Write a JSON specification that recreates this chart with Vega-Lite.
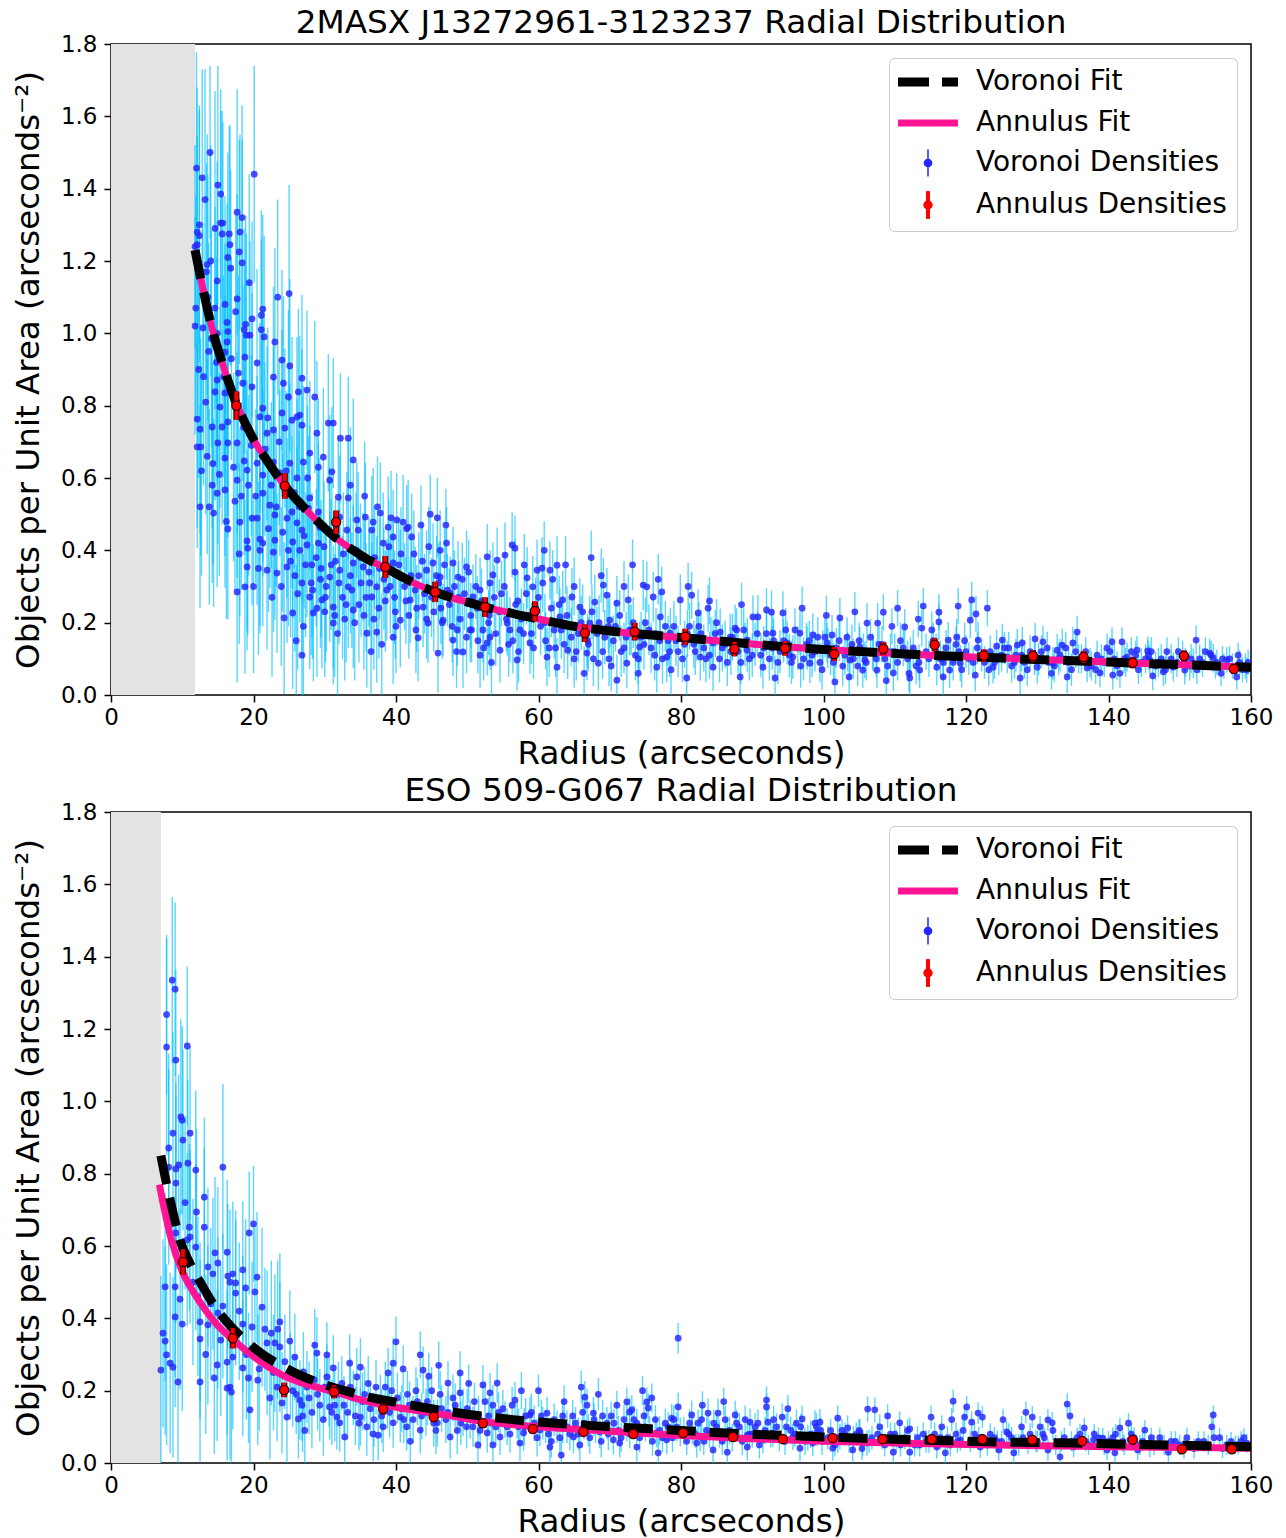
{
"$schema":"https://vega.github.io/schema/vega-lite/v6.json",
"background":"white",
"padding":{"left":11,"top":6,"right":10,"bottom":4},
"config":{"font":"DejaVu Sans","view":{"stroke":"black","strokeWidth":1.5},
"axis":{"grid":false,"domain":false,"tickColor":"black","tickWidth":1.5,"tickSize":7,"labelColor":"black","titleColor":"black","labelFontSize":23,"titleFontSize":32.5,"titleFontWeight":"normal","labelFlush":false,"labelOverlap":false,"labelFont":"DejaVu Sans","titleFont":"DejaVu Sans"},
"axisX":{"labelPadding":4,"titlePadding":8},
"axisY":{"labelPadding":7,"titlePadding":15},
"title":{"fontSize":32.7,"fontWeight":"normal","color":"black","font":"DejaVu Sans","anchor":"middle","baseline":"alphabetic","offset":-7}},
"datasets":{
"tv":[
{"r":12.0,"y":1.457,"e":0.32},{"r":12.8,"y":1.43,"e":0.3},{"r":13.9,"y":1.5,"e":0.24},{"r":15.0,"y":1.41,"e":0.33},{"r":15.4,"y":1.385,"e":0.29},{"r":13.2,"y":1.37,"e":0.36},{"r":20.1,"y":1.44,"e":0.3},{"r":17.7,"y":1.335,"e":0.34},{"r":18.4,"y":1.32,"e":0.31},{"r":12.4,"y":1.3,"e":0.33},{"r":12.1,"y":1.28,"e":0.4},{"r":12.4,"y":1.27,"e":0.35},{"r":12.1,"y":1.245,"e":0.3},{"r":11.8,"y":1.24,"e":0.28},{"r":14.6,"y":1.29,"e":0.38},{"r":15.4,"y":1.305,"e":0.31},{"r":15.7,"y":1.305,"e":0.28},{"r":15.6,"y":1.275,"e":0.34},{"r":16.6,"y":1.275,"e":0.3},{"r":18.1,"y":1.28,"e":0.27},{"r":16.7,"y":1.245,"e":0.33},{"r":18.0,"y":1.225,"e":0.31},{"r":16.4,"y":1.21,"e":0.29},{"r":18.4,"y":1.195,"e":0.34},{"r":14.0,"y":1.2,"e":0.32},{"r":13.5,"y":1.19,"e":0.36},{"r":13.4,"y":1.17,"e":0.3},{"r":16.8,"y":1.18,"e":0.27},{"r":19.4,"y":1.14,"e":0.3},{"r":14.9,"y":1.145,"e":0.33},{"r":23.4,"y":1.1,"e":0.27},{"r":25.0,"y":1.11,"e":0.3},{"r":17.7,"y":1.095,"e":0.29},{"r":13.6,"y":1.1,"e":0.34},{"r":11.9,"y":1.07,"e":0.31},{"r":14.6,"y":1.07,"e":0.28},{"r":16.0,"y":1.08,"e":0.3},{"r":17.5,"y":1.06,"e":0.27},{"r":21.3,"y":1.067,"e":0.26},{"r":21.1,"y":1.05,"e":0.29},{"r":19.8,"y":1.04,"e":0.27},{"r":18.9,"y":1.025,"e":0.3},{"r":18.7,"y":1.01,"e":0.28},{"r":19.5,"y":0.995,"e":0.26},{"r":21.1,"y":1.01,"e":0.25},{"r":11.8,"y":1.02,"e":0.3},{"r":16.3,"y":1.03,"e":0.33},{"r":12.9,"y":1.015,"e":0.29},{"r":16.4,"y":1.005,"e":0.27},{"r":21.5,"y":0.99,"e":0.28},{"r":14.9,"y":1.0,"e":0.31},
{"r":14.1,"y":0.985,"e":0.3},{"r":16.3,"y":0.976,"e":0.29},{"r":19.0,"y":0.995,"e":0.28},{"r":23.0,"y":0.976,"e":0.26},{"r":16.0,"y":0.948,"e":0.3},{"r":18.8,"y":0.934,"e":0.27},{"r":20.5,"y":0.918,"e":0.26},{"r":24.0,"y":0.926,"e":0.25},{"r":25.1,"y":0.91,"e":0.24},{"r":14.9,"y":0.871,"e":0.29},{"r":14.6,"y":0.838,"e":0.3},{"r":16.0,"y":0.835,"e":0.27},{"r":13.3,"y":0.81,"e":0.31},{"r":15.3,"y":0.796,"e":0.28},{"r":18.5,"y":0.862,"e":0.27},{"r":19.8,"y":0.852,"e":0.26},{"r":22.8,"y":0.879,"e":0.25},{"r":24.2,"y":0.862,"e":0.24},{"r":26.8,"y":0.876,"e":0.23},{"r":27.5,"y":0.843,"e":0.22},{"r":28.6,"y":0.824,"e":0.21},{"r":26.3,"y":0.838,"e":0.23},{"r":24.9,"y":0.824,"e":0.24},{"r":21.3,"y":0.793,"e":0.25},{"r":24.0,"y":0.78,"e":0.23},{"r":26.5,"y":0.774,"e":0.22},{"r":25.4,"y":0.76,"e":0.23},{"r":22.0,"y":0.766,"e":0.25},{"r":20.9,"y":0.769,"e":0.26},
{"r":12.1,"y":0.763,"e":0.3},{"r":12.5,"y":0.735,"e":0.29},{"r":12.1,"y":0.686,"e":0.28},{"r":12.6,"y":0.686,"e":0.3},{"r":13.5,"y":0.66,"e":0.27},{"r":14.2,"y":0.741,"e":0.28},{"r":15.6,"y":0.741,"e":0.27},{"r":16.4,"y":0.755,"e":0.26},{"r":15.0,"y":0.697,"e":0.28},{"r":16.4,"y":0.697,"e":0.26},{"r":16.0,"y":0.655,"e":0.27},{"r":17.7,"y":0.697,"e":0.25},{"r":18.7,"y":0.647,"e":0.26},{"r":17.7,"y":0.594,"e":0.27},{"r":19.1,"y":0.622,"e":0.25},{"r":20.5,"y":0.641,"e":0.24},{"r":21.9,"y":0.724,"e":0.24},{"r":22.8,"y":0.733,"e":0.23},{"r":24.4,"y":0.738,"e":0.22},{"r":26.1,"y":0.769,"e":0.22},{"r":26.8,"y":0.746,"e":0.21},{"r":27.9,"y":0.669,"e":0.2},{"r":28.9,"y":0.724,"e":0.2},{"r":30.5,"y":0.752,"e":0.19},{"r":31.2,"y":0.752,"e":0.18},{"r":32.2,"y":0.71,"e":0.18},{"r":33.3,"y":0.71,"e":0.17},{"r":34.0,"y":0.65,"e":0.17},{"r":29.8,"y":0.658,"e":0.19},{"r":27.0,"y":0.644,"e":0.21},{"r":25.1,"y":0.641,"e":0.22},{"r":22.8,"y":0.644,"e":0.23},{"r":21.3,"y":0.608,"e":0.24},{"r":23.7,"y":0.614,"e":0.23},{"r":26.1,"y":0.6,"e":0.22},{"r":29.1,"y":0.63,"e":0.19},{"r":31.0,"y":0.617,"e":0.18},{"r":30.7,"y":0.594,"e":0.18},
{"r":14.2,"y":0.58,"e":0.27},{"r":14.9,"y":0.558,"e":0.26},{"r":16.0,"y":0.567,"e":0.27},{"r":12.5,"y":0.52,"e":0.28},{"r":13.8,"y":0.52,"e":0.27},{"r":14.4,"y":0.503,"e":0.26},{"r":16.4,"y":0.459,"e":0.25},{"r":17.4,"y":0.536,"e":0.25},{"r":18.1,"y":0.478,"e":0.26},{"r":19.8,"y":0.489,"e":0.24},{"r":19.1,"y":0.426,"e":0.25},{"r":20.5,"y":0.489,"e":0.24},{"r":21.3,"y":0.558,"e":0.23},{"r":22.3,"y":0.525,"e":0.23},{"r":23.0,"y":0.498,"e":0.22},{"r":24.7,"y":0.489,"e":0.22},{"r":25.4,"y":0.506,"e":0.21},{"r":26.1,"y":0.476,"e":0.21},{"r":26.8,"y":0.456,"e":0.2},{"r":27.9,"y":0.545,"e":0.2},{"r":27.7,"y":0.517,"e":0.2},{"r":29.1,"y":0.506,"e":0.19},{"r":29.3,"y":0.464,"e":0.19},{"r":30.7,"y":0.448,"e":0.18},{"r":31.9,"y":0.547,"e":0.17},{"r":33.3,"y":0.545,"e":0.17},{"r":32.1,"y":0.492,"e":0.17},{"r":33.1,"y":0.456,"e":0.16},{"r":34.5,"y":0.484,"e":0.16},{"r":35.7,"y":0.492,"e":0.15},{"r":36.8,"y":0.478,"e":0.15},{"r":37.8,"y":0.503,"e":0.14},{"r":38.9,"y":0.464,"e":0.14},{"r":40.1,"y":0.484,"e":0.13},{"r":41.0,"y":0.478,"e":0.13},{"r":41.7,"y":0.464,"e":0.13},{"r":42.2,"y":0.437,"e":0.12},{"r":39.6,"y":0.437,"e":0.13},{"r":38.2,"y":0.42,"e":0.14},{"r":36.6,"y":0.456,"e":0.15},{"r":34.7,"y":0.456,"e":0.16},{"r":29.1,"y":0.42,"e":0.19},{"r":27.5,"y":0.415,"e":0.2},{"r":25.5,"y":0.423,"e":0.21},{"r":23.0,"y":0.428,"e":0.22},{"r":21.3,"y":0.42,"e":0.23},{"r":20.9,"y":0.431,"e":0.24},
{"r":19.2,"y":0.406,"e":0.24},{"r":20.9,"y":0.4,"e":0.23},{"r":22.8,"y":0.395,"e":0.22},{"r":24.9,"y":0.4,"e":0.21},{"r":26.5,"y":0.4,"e":0.2},{"r":19.1,"y":0.354,"e":0.23},{"r":21.9,"y":0.345,"e":0.22},{"r":23.3,"y":0.337,"e":0.22},{"r":24.7,"y":0.354,"e":0.21},{"r":26.8,"y":0.31,"e":0.2},{"r":27.9,"y":0.271,"e":0.2},{"r":29.6,"y":0.263,"e":0.19},{"r":30.7,"y":0.326,"e":0.18},{"r":32.1,"y":0.345,"e":0.17},{"r":33.3,"y":0.299,"e":0.17},{"r":34.0,"y":0.365,"e":0.16},{"r":35.4,"y":0.354,"e":0.15},{"r":36.6,"y":0.271,"e":0.15},{"r":37.3,"y":0.299,"e":0.14},{"r":38.7,"y":0.29,"e":0.14},{"r":39.6,"y":0.365,"e":0.13},{"r":40.6,"y":0.326,"e":0.13},{"r":42.0,"y":0.263,"e":0.12},{"r":42.7,"y":0.29,"e":0.12},{"r":44.3,"y":0.345,"e":0.11},{"r":45.2,"y":0.365,"e":0.11},{"r":46.2,"y":0.4,"e":0.11},{"r":47.1,"y":0.42,"e":0.1},{"r":48.0,"y":0.365,"e":0.1},{"r":48.7,"y":0.326,"e":0.1},{"r":49.9,"y":0.354,"e":0.1},{"r":52.8,"y":0.382,"e":0.09},{"r":54.2,"y":0.373,"e":0.09},{"r":46.2,"y":0.326,"e":0.1},{"r":43.8,"y":0.243,"e":0.11},{"r":47.6,"y":0.282,"e":0.1},{"r":50.8,"y":0.271,"e":0.09},{"r":53.2,"y":0.31,"e":0.09},{"r":51.8,"y":0.29,"e":0.09},{"r":34.0,"y":0.235,"e":0.16},{"r":31.2,"y":0.243,"e":0.17},
{"r":17.7,"y":0.285,"e":0.25},{"r":18.8,"y":0.299,"e":0.24},{"r":24.3,"y":0.213,"e":0.21},{"r":25.5,"y":0.227,"e":0.21},{"r":26.8,"y":0.11,"e":0.2},{"r":28.4,"y":0.227,"e":0.19},{"r":31.2,"y":0.199,"e":0.17},{"r":35.9,"y":0.171,"e":0.15},{"r":37.3,"y":0.174,"e":0.14},{"r":39.6,"y":0.16,"e":0.13},{"r":40.6,"y":0.207,"e":0.13},{"r":43.1,"y":0.158,"e":0.12},{"r":45.9,"y":0.116,"e":0.11},{"r":48.0,"y":0.152,"e":0.1},{"r":49.4,"y":0.119,"e":0.1},{"r":51.8,"y":0.11,"e":0.09},{"r":52.8,"y":0.144,"e":0.09},{"r":50.4,"y":0.18,"e":0.09},{"r":44.5,"y":0.199,"e":0.11},{"r":46.6,"y":0.207,"e":0.1},{"r":48.6,"y":0.18,"e":0.1},
{"r":55.3,"y":0.387,"e":0.09},{"r":56.3,"y":0.415,"e":0.09},{"r":56.7,"y":0.406,"e":0.09},{"r":53.6,"y":0.332,"e":0.09},{"r":56.7,"y":0.34,"e":0.09},{"r":58.4,"y":0.324,"e":0.085},{"r":59.8,"y":0.345,"e":0.085},{"r":60.5,"y":0.351,"e":0.085},{"r":61.6,"y":0.345,"e":0.08},{"r":62.6,"y":0.359,"e":0.08},{"r":60.6,"y":0.31,"e":0.08},{"r":59.2,"y":0.299,"e":0.085},{"r":63.4,"y":0.263,"e":0.08},{"r":64.7,"y":0.271,"e":0.08},{"r":65.8,"y":0.243,"e":0.08},{"r":67.9,"y":0.257,"e":0.075},{"r":69.1,"y":0.304,"e":0.075},{"r":69.6,"y":0.276,"e":0.075},{"r":71.0,"y":0.254,"e":0.075},{"r":72.6,"y":0.263,"e":0.07},{"r":74.7,"y":0.304,"e":0.07},{"r":75.2,"y":0.299,"e":0.07},{"r":76.1,"y":0.271,"e":0.07},{"r":77.3,"y":0.285,"e":0.07},{"r":79.9,"y":0.263,"e":0.07},{"r":81.5,"y":0.276,"e":0.065},{"r":82.4,"y":0.227,"e":0.065},{"r":83.8,"y":0.24,"e":0.065},{"r":85.5,"y":0.174,"e":0.065},{"r":87.6,"y":0.185,"e":0.065},{"r":90.1,"y":0.216,"e":0.06},{"r":90.8,"y":0.216,"e":0.06},{"r":92.0,"y":0.235,"e":0.06},{"r":92.7,"y":0.229,"e":0.06},{"r":94.3,"y":0.227,"e":0.06},{"r":96.7,"y":0.171,"e":0.06},{"r":98.5,"y":0.166,"e":0.06},{"r":101.2,"y":0.166,"e":0.055},{"r":102.3,"y":0.213,"e":0.055},{"r":106.1,"y":0.199,"e":0.055},{"r":107.6,"y":0.199,"e":0.055},
{"r":53.2,"y":0.16,"e":0.09},{"r":54.6,"y":0.124,"e":0.09},{"r":57.0,"y":0.097,"e":0.085},{"r":58.8,"y":0.144,"e":0.085},{"r":61.2,"y":0.105,"e":0.08},{"r":62.6,"y":0.077,"e":0.08},{"r":64.1,"y":0.124,"e":0.08},{"r":66.8,"y":0.116,"e":0.075},{"r":68.4,"y":0.088,"e":0.075},{"r":71.0,"y":0.041,"e":0.07},{"r":72.4,"y":0.088,"e":0.07},{"r":74.2,"y":0.133,"e":0.07},{"r":76.6,"y":0.077,"e":0.07},{"r":78.0,"y":0.105,"e":0.07},{"r":80.8,"y":0.047,"e":0.065},{"r":82.7,"y":0.105,"e":0.065},{"r":84.5,"y":0.077,"e":0.065},{"r":88.3,"y":0.05,"e":0.06},{"r":89.3,"y":0.124,"e":0.06},{"r":91.5,"y":0.077,"e":0.06},{"r":93.2,"y":0.047,"e":0.06},{"r":95.7,"y":0.105,"e":0.06},{"r":98.1,"y":0.088,"e":0.055},{"r":99.9,"y":0.124,"e":0.055},{"r":101.6,"y":0.036,"e":0.055},{"r":103.7,"y":0.097,"e":0.055},{"r":105.5,"y":0.069,"e":0.05},{"r":107.0,"y":0.116,"e":0.05},
{"r":52.2,"y":0.18,"e":0.09},{"r":55.6,"y":0.199,"e":0.09},{"r":57.4,"y":0.18,"e":0.085},{"r":63.0,"y":0.216,"e":0.08},{"r":67.2,"y":0.199,"e":0.075},{"r":70.0,"y":0.207,"e":0.075},{"r":72.8,"y":0.18,"e":0.07},{"r":77.1,"y":0.216,"e":0.07},{"r":78.5,"y":0.171,"e":0.07},{"r":82.2,"y":0.16,"e":0.065},{"r":84.5,"y":0.144,"e":0.065},{"r":86.9,"y":0.16,"e":0.065},{"r":89.3,"y":0.152,"e":0.06},{"r":92.9,"y":0.171,"e":0.06},{"r":94.9,"y":0.144,"e":0.06},{"r":97.7,"y":0.13,"e":0.06},{"r":100.5,"y":0.144,"e":0.055},{"r":103.3,"y":0.16,"e":0.055},{"r":105.1,"y":0.133,"e":0.055},
{"r":108.4,"y":0.229,"e":0.05},{"r":109.6,"y":0.19,"e":0.05},{"r":111.4,"y":0.188,"e":0.05},{"r":113.3,"y":0.21,"e":0.05},{"r":114.0,"y":0.246,"e":0.05},{"r":113.8,"y":0.185,"e":0.05},{"r":115.2,"y":0.18,"e":0.05},{"r":116.2,"y":0.229,"e":0.05},{"r":116.2,"y":0.202,"e":0.05},{"r":117.5,"y":0.152,"e":0.05},{"r":118.7,"y":0.16,"e":0.05},{"r":118.9,"y":0.246,"e":0.05},{"r":120.8,"y":0.263,"e":0.05},{"r":120.6,"y":0.207,"e":0.05},{"r":121.4,"y":0.224,"e":0.05},{"r":123.0,"y":0.24,"e":0.05},{"r":121.7,"y":0.152,"e":0.05},{"r":124.3,"y":0.135,"e":0.045},{"r":125.1,"y":0.152,"e":0.045},{"r":127.2,"y":0.138,"e":0.045},{"r":127.9,"y":0.144,"e":0.045},{"r":129.7,"y":0.155,"e":0.045},{"r":130.8,"y":0.147,"e":0.045},{"r":132.8,"y":0.124,"e":0.045},{"r":133.5,"y":0.138,"e":0.045},{"r":135.0,"y":0.144,"e":0.045},{"r":135.6,"y":0.174,"e":0.045},{"r":140.5,"y":0.147,"e":0.04},{"r":141.9,"y":0.147,"e":0.04},{"r":144.0,"y":0.124,"e":0.04},{"r":145.5,"y":0.122,"e":0.04},{"r":152.3,"y":0.152,"e":0.04},{"r":154.2,"y":0.116,"e":0.04},{"r":154.7,"y":0.102,"e":0.04},{"r":146.2,"y":0.053,"e":0.04},{"r":147.7,"y":0.064,"e":0.04},{"r":150.7,"y":0.069,"e":0.04},{"r":158.0,"y":0.05,"e":0.035},{"r":159.4,"y":0.069,"e":0.035},
{"r":105.8,"y":0.097,"e":0.05},{"r":107.5,"y":0.069,"e":0.05},{"r":109.8,"y":0.061,"e":0.05},{"r":112.1,"y":0.047,"e":0.05},{"r":113.5,"y":0.069,"e":0.05},{"r":115.9,"y":0.077,"e":0.05},{"r":117.7,"y":0.069,"e":0.05},{"r":119.2,"y":0.088,"e":0.05},{"r":121.3,"y":0.055,"e":0.045},{"r":123.8,"y":0.077,"e":0.045},{"r":125.8,"y":0.105,"e":0.045},{"r":127.6,"y":0.047,"e":0.045},{"r":130.0,"y":0.077,"e":0.045},{"r":132.2,"y":0.088,"e":0.045},{"r":134.2,"y":0.05,"e":0.045},{"r":137.0,"y":0.075,"e":0.04},{"r":138.8,"y":0.061,"e":0.04},{"r":140.6,"y":0.055,"e":0.04},{"r":142.6,"y":0.105,"e":0.04},{"r":145.8,"y":0.097,"e":0.04},{"r":149.1,"y":0.077,"e":0.04},{"r":151.9,"y":0.088,"e":0.04},{"r":156.6,"y":0.097,"e":0.035},
{"r":25.8,"y":0.33,"e":0.21},{"r":26.2,"y":0.28,"e":0.21},{"r":27.3,"y":0.36,"e":0.2},{"r":28.1,"y":0.31,"e":0.2},{"r":28.8,"y":0.38,"e":0.19},{"r":29.5,"y":0.35,"e":0.19},{"r":30.2,"y":0.3,"e":0.18},{"r":31.5,"y":0.37,"e":0.17},{"r":32.5,"y":0.27,"e":0.17},{"r":33.6,"y":0.33,"e":0.16},{"r":34.4,"y":0.4,"e":0.16},{"r":35.1,"y":0.31,"e":0.15},{"r":29.9,"y":0.41,"e":0.18},{"r":27.0,"y":0.19,"e":0.2},{"r":30.0,"y":0.23,"e":0.18},{"r":32.8,"y":0.21,"e":0.17},{"r":34.8,"y":0.25,"e":0.16},{"r":26.0,"y":0.15,"e":0.21},{"r":31.8,"y":0.17,"e":0.17},
{"r":35.5,"y":0.22,"e":0.15},{"r":36.2,"y":0.34,"e":0.15},{"r":37.0,"y":0.38,"e":0.14},{"r":37.6,"y":0.24,"e":0.14},{"r":38.3,"y":0.32,"e":0.14},{"r":39.0,"y":0.41,"e":0.13},{"r":39.8,"y":0.27,"e":0.13},{"r":40.4,"y":0.36,"e":0.13},{"r":41.2,"y":0.3,"e":0.12},{"r":41.8,"y":0.22,"e":0.12},{"r":42.5,"y":0.39,"e":0.12},{"r":43.2,"y":0.33,"e":0.12},{"r":44.0,"y":0.28,"e":0.11},{"r":44.6,"y":0.41,"e":0.11},{"r":45.3,"y":0.23,"e":0.11},{"r":46.0,"y":0.31,"e":0.11},{"r":46.8,"y":0.36,"e":0.1},{"r":47.5,"y":0.25,"e":0.1},{"r":48.2,"y":0.3,"e":0.1},{"r":49.0,"y":0.21,"e":0.1},{"r":49.6,"y":0.28,"e":0.1},{"r":43.5,"y":0.47,"e":0.11},{"r":44.8,"y":0.5,"e":0.11},{"r":45.8,"y":0.49,"e":0.11},{"r":47.0,"y":0.47,"e":0.1},{"r":40.0,"y":0.19,"e":0.13},{"r":42.8,"y":0.18,"e":0.12},{"r":38.0,"y":0.14,"e":0.14},{"r":36.5,"y":0.12,"e":0.15},{"r":48.5,"y":0.12,"e":0.1},{"r":46.5,"y":0.2,"e":0.1},{"r":41.5,"y":0.46,"e":0.12},{"r":39.3,"y":0.49,"e":0.13},{"r":37.4,"y":0.52,"e":0.14},{"r":35.6,"y":0.55,"e":0.15},{"r":33.6,"y":0.58,"e":0.16},
{"r":50.5,"y":0.22,"e":0.09},{"r":51.2,"y":0.3,"e":0.09},{"r":52.0,"y":0.26,"e":0.09},{"r":53.0,"y":0.2,"e":0.09},{"r":53.8,"y":0.27,"e":0.09},{"r":54.5,"y":0.23,"e":0.09},{"r":55.2,"y":0.3,"e":0.09},{"r":56.0,"y":0.18,"e":0.09},{"r":56.8,"y":0.25,"e":0.09},{"r":57.6,"y":0.21,"e":0.085},{"r":58.3,"y":0.28,"e":0.085},{"r":59.0,"y":0.17,"e":0.085},{"r":59.6,"y":0.24,"e":0.085},{"r":55.8,"y":0.14,"e":0.09},{"r":51.5,"y":0.15,"e":0.09},{"r":57.2,"y":0.12,"e":0.085},{"r":53.4,"y":0.09,"e":0.09},{"r":50.2,"y":0.34,"e":0.09},{"r":58.0,"y":0.36,"e":0.085},
{"r":60.3,"y":0.19,"e":0.08},{"r":61.0,"y":0.15,"e":0.08},{"r":61.8,"y":0.24,"e":0.08},{"r":62.4,"y":0.13,"e":0.08},{"r":63.2,"y":0.18,"e":0.08},{"r":64.0,"y":0.22,"e":0.08},{"r":64.6,"y":0.16,"e":0.08},{"r":65.3,"y":0.12,"e":0.08},{"r":66.0,"y":0.2,"e":0.075},{"r":67.0,"y":0.14,"e":0.075},{"r":67.5,"y":0.23,"e":0.075},{"r":68.2,"y":0.17,"e":0.075},{"r":69.0,"y":0.12,"e":0.075},{"r":69.8,"y":0.19,"e":0.075},{"r":70.5,"y":0.15,"e":0.07},{"r":71.4,"y":0.22,"e":0.07},{"r":72.0,"y":0.13,"e":0.07},{"r":73.0,"y":0.18,"e":0.07},{"r":73.6,"y":0.11,"e":0.07},{"r":74.4,"y":0.16,"e":0.07},{"r":75.0,"y":0.2,"e":0.07},{"r":75.8,"y":0.13,"e":0.07},{"r":76.5,"y":0.17,"e":0.07},{"r":77.4,"y":0.1,"e":0.07},{"r":78.2,"y":0.15,"e":0.07},{"r":79.0,"y":0.19,"e":0.07},{"r":79.6,"y":0.12,"e":0.07},{"r":66.4,"y":0.06,"e":0.075},{"r":70.2,"y":0.08,"e":0.07},{"r":74.0,"y":0.06,"e":0.07},{"r":78.6,"y":0.07,"e":0.07},{"r":62.0,"y":0.32,"e":0.08},{"r":65.0,"y":0.3,"e":0.08},{"r":68.8,"y":0.33,"e":0.075},{"r":60.8,"y":0.4,"e":0.08},{"r":72.0,"y":0.3,"e":0.07},{"r":76.8,"y":0.32,"e":0.07},{"r":73.2,"y":0.36,"e":0.07},{"r":67.4,"y":0.38,"e":0.075},{"r":63.8,"y":0.36,"e":0.08},
{"r":80.5,"y":0.14,"e":0.065},{"r":81.2,"y":0.19,"e":0.065},{"r":82.0,"y":0.12,"e":0.065},{"r":82.8,"y":0.17,"e":0.065},{"r":83.5,"y":0.1,"e":0.065},{"r":84.2,"y":0.15,"e":0.065},{"r":85.0,"y":0.2,"e":0.065},{"r":85.8,"y":0.13,"e":0.065},{"r":86.5,"y":0.09,"e":0.065},{"r":87.2,"y":0.16,"e":0.065},{"r":88.0,"y":0.12,"e":0.06},{"r":88.8,"y":0.18,"e":0.06},{"r":89.6,"y":0.1,"e":0.06},{"r":90.4,"y":0.14,"e":0.06},{"r":91.2,"y":0.11,"e":0.06},{"r":92.0,"y":0.17,"e":0.06},{"r":92.8,"y":0.13,"e":0.06},{"r":93.6,"y":0.09,"e":0.06},{"r":94.4,"y":0.15,"e":0.06},{"r":95.2,"y":0.11,"e":0.06},{"r":96.0,"y":0.18,"e":0.06},{"r":96.8,"y":0.08,"e":0.06},{"r":97.6,"y":0.14,"e":0.06},{"r":98.4,"y":0.11,"e":0.06},{"r":99.2,"y":0.16,"e":0.055},{"r":99.8,"y":0.07,"e":0.055},{"r":84.0,"y":0.26,"e":0.065},{"r":88.5,"y":0.25,"e":0.06},{"r":97.0,"y":0.24,"e":0.06},{"r":81.0,"y":0.3,"e":0.065},
{"r":100.6,"y":0.13,"e":0.055},{"r":101.4,"y":0.09,"e":0.055},{"r":102.2,"y":0.15,"e":0.055},{"r":103.0,"y":0.11,"e":0.055},{"r":104.0,"y":0.14,"e":0.055},{"r":104.8,"y":0.08,"e":0.055},{"r":105.6,"y":0.12,"e":0.05},{"r":106.6,"y":0.16,"e":0.05},{"r":107.4,"y":0.1,"e":0.05},{"r":108.2,"y":0.14,"e":0.05},{"r":109.0,"y":0.08,"e":0.05},{"r":110.0,"y":0.12,"e":0.05},{"r":110.8,"y":0.15,"e":0.05},{"r":111.8,"y":0.1,"e":0.05},{"r":112.6,"y":0.13,"e":0.05},{"r":113.4,"y":0.09,"e":0.05},{"r":114.4,"y":0.12,"e":0.05},{"r":115.4,"y":0.15,"e":0.05},{"r":116.4,"y":0.1,"e":0.05},{"r":117.2,"y":0.13,"e":0.05},{"r":118.2,"y":0.09,"e":0.05},{"r":119.0,"y":0.12,"e":0.05},{"r":119.8,"y":0.15,"e":0.05},{"r":112.0,"y":0.06,"e":0.05},{"r":116.8,"y":0.05,"e":0.05},{"r":103.6,"y":0.05,"e":0.055},{"r":108.8,"y":0.04,"e":0.05},{"r":100.4,"y":0.22,"e":0.055},{"r":104.4,"y":0.23,"e":0.055},{"r":110.4,"y":0.24,"e":0.05},
{"r":120.4,"y":0.1,"e":0.045},{"r":121.6,"y":0.13,"e":0.045},{"r":122.6,"y":0.09,"e":0.045},{"r":123.4,"y":0.12,"e":0.045},{"r":124.6,"y":0.1,"e":0.045},{"r":125.4,"y":0.13,"e":0.045},{"r":126.4,"y":0.08,"e":0.045},{"r":127.0,"y":0.11,"e":0.045},{"r":128.2,"y":0.09,"e":0.045},{"r":129.0,"y":0.12,"e":0.045},{"r":130.2,"y":0.1,"e":0.045},{"r":131.4,"y":0.13,"e":0.045},{"r":132.4,"y":0.08,"e":0.045},{"r":133.2,"y":0.11,"e":0.045},{"r":134.4,"y":0.09,"e":0.045},{"r":135.4,"y":0.12,"e":0.045},{"r":136.2,"y":0.1,"e":0.04},{"r":137.6,"y":0.08,"e":0.04},{"r":138.4,"y":0.11,"e":0.04},{"r":139.4,"y":0.09,"e":0.04},{"r":140.2,"y":0.12,"e":0.04},{"r":141.2,"y":0.08,"e":0.04},{"r":142.2,"y":0.1,"e":0.04},{"r":143.2,"y":0.12,"e":0.04},{"r":144.6,"y":0.09,"e":0.04},{"r":145.6,"y":0.11,"e":0.04},{"r":146.6,"y":0.08,"e":0.04},{"r":147.4,"y":0.1,"e":0.04},{"r":148.2,"y":0.12,"e":0.04},{"r":149.6,"y":0.09,"e":0.04},{"r":150.4,"y":0.11,"e":0.04},{"r":151.4,"y":0.08,"e":0.04},{"r":152.8,"y":0.1,"e":0.04},{"r":153.6,"y":0.12,"e":0.04},{"r":155.2,"y":0.09,"e":0.035},{"r":156.2,"y":0.08,"e":0.035},{"r":157.0,"y":0.1,"e":0.035},{"r":158.4,"y":0.09,"e":0.035},{"r":159.2,"y":0.08,"e":0.035},{"r":155.8,"y":0.06,"e":0.035},
{"r":28.3,"y":0.29,"e":0.19},{"r":28.9,"y":0.24,"e":0.19},{"r":29.4,"y":0.32,"e":0.19},{"r":30.1,"y":0.27,"e":0.18},{"r":30.9,"y":0.36,"e":0.18},{"r":31.4,"y":0.22,"e":0.17},{"r":32.0,"y":0.31,"e":0.17},{"r":32.6,"y":0.39,"e":0.17},{"r":33.0,"y":0.25,"e":0.16},{"r":33.8,"y":0.29,"e":0.16},{"r":34.2,"y":0.2,"e":0.16},{"r":35.0,"y":0.38,"e":0.15},{"r":35.8,"y":0.27,"e":0.15},{"r":36.3,"y":0.31,"e":0.15},{"r":36.9,"y":0.21,"e":0.14},{"r":37.7,"y":0.35,"e":0.14},{"r":38.5,"y":0.26,"e":0.14},{"r":39.2,"y":0.3,"e":0.13},{"r":39.9,"y":0.23,"e":0.13},{"r":40.7,"y":0.39,"e":0.13},{"r":41.4,"y":0.26,"e":0.12},{"r":42.1,"y":0.33,"e":0.12},{"r":42.9,"y":0.24,"e":0.12},{"r":43.7,"y":0.37,"e":0.11},{"r":44.3,"y":0.21,"e":0.11},{"r":45.0,"y":0.27,"e":0.11},{"r":45.7,"y":0.33,"e":0.11},{"r":46.3,"y":0.24,"e":0.1},{"r":47.2,"y":0.29,"e":0.1},{"r":47.9,"y":0.19,"e":0.1},{"r":48.8,"y":0.27,"e":0.1},{"r":49.3,"y":0.32,"e":0.1},{"r":49.9,"y":0.16,"e":0.1},
{"r":50.6,"y":0.18,"e":0.09},{"r":51.4,"y":0.24,"e":0.09},{"r":52.3,"y":0.13,"e":0.09},{"r":53.1,"y":0.22,"e":0.09},{"r":54.0,"y":0.17,"e":0.09},{"r":54.8,"y":0.28,"e":0.09},{"r":55.5,"y":0.21,"e":0.09},{"r":56.4,"y":0.15,"e":0.09},{"r":57.1,"y":0.26,"e":0.085},{"r":57.9,"y":0.17,"e":0.085},{"r":58.7,"y":0.22,"e":0.085},{"r":59.3,"y":0.13,"e":0.085},{"r":60.0,"y":0.27,"e":0.085},{"r":60.9,"y":0.2,"e":0.08},{"r":61.5,"y":0.13,"e":0.08},{"r":62.2,"y":0.18,"e":0.08},{"r":62.9,"y":0.25,"e":0.08},{"r":63.6,"y":0.14,"e":0.08},{"r":64.3,"y":0.19,"e":0.08},{"r":65.0,"y":0.1,"e":0.08},{"r":65.6,"y":0.17,"e":0.08},{"r":66.2,"y":0.23,"e":0.075},{"r":66.9,"y":0.15,"e":0.075},{"r":67.7,"y":0.1,"e":0.075},{"r":68.5,"y":0.2,"e":0.075},{"r":69.3,"y":0.16,"e":0.075},{"r":69.9,"y":0.1,"e":0.075},
{"r":70.8,"y":0.19,"e":0.07},{"r":71.6,"y":0.12,"e":0.07},{"r":72.3,"y":0.16,"e":0.07},{"r":73.3,"y":0.2,"e":0.07},{"r":74.0,"y":0.1,"e":0.07},{"r":74.8,"y":0.14,"e":0.07},{"r":75.5,"y":0.18,"e":0.07},{"r":76.3,"y":0.11,"e":0.07},{"r":77.0,"y":0.15,"e":0.07},{"r":77.8,"y":0.19,"e":0.07},{"r":78.4,"y":0.12,"e":0.07},{"r":79.3,"y":0.15,"e":0.07},{"r":80.2,"y":0.1,"e":0.065},{"r":80.9,"y":0.17,"e":0.065},{"r":81.8,"y":0.14,"e":0.065},{"r":82.5,"y":0.19,"e":0.065},{"r":83.2,"y":0.13,"e":0.065},{"r":84.0,"y":0.11,"e":0.065},{"r":84.8,"y":0.17,"e":0.065},{"r":85.4,"y":0.1,"e":0.065},{"r":86.2,"y":0.14,"e":0.065},{"r":87.0,"y":0.12,"e":0.065},{"r":87.8,"y":0.18,"e":0.06},{"r":88.4,"y":0.09,"e":0.06},{"r":89.0,"y":0.14,"e":0.06},{"r":90.0,"y":0.11,"e":0.06},{"r":90.7,"y":0.17,"e":0.06},{"r":91.6,"y":0.13,"e":0.06},{"r":92.4,"y":0.1,"e":0.06},{"r":93.0,"y":0.15,"e":0.06},{"r":93.9,"y":0.12,"e":0.06},{"r":94.7,"y":0.18,"e":0.06},{"r":95.5,"y":0.09,"e":0.06},{"r":96.4,"y":0.13,"e":0.06},{"r":97.2,"y":0.1,"e":0.06},{"r":98.0,"y":0.15,"e":0.055},{"r":98.8,"y":0.12,"e":0.055},{"r":99.5,"y":0.09,"e":0.055},{"r":100.2,"y":0.16,"e":0.055},{"r":101.0,"y":0.11,"e":0.055},{"r":101.8,"y":0.13,"e":0.055},{"r":102.7,"y":0.08,"e":0.055},{"r":103.4,"y":0.12,"e":0.055},{"r":104.2,"y":0.1,"e":0.055},{"r":105.0,"y":0.15,"e":0.05},{"r":106.0,"y":0.09,"e":0.05},{"r":106.9,"y":0.12,"e":0.05},{"r":107.8,"y":0.14,"e":0.05},{"r":108.6,"y":0.1,"e":0.05},{"r":109.4,"y":0.12,"e":0.05},
{"r":110.4,"y":0.09,"e":0.05},{"r":111.2,"y":0.13,"e":0.05},{"r":112.2,"y":0.11,"e":0.05},{"r":113.0,"y":0.08,"e":0.05},{"r":114.8,"y":0.1,"e":0.05},{"r":115.8,"y":0.12,"e":0.05},{"r":116.8,"y":0.09,"e":0.05},{"r":117.8,"y":0.11,"e":0.05},{"r":118.6,"y":0.14,"e":0.05},{"r":119.4,"y":0.07,"e":0.05},{"r":120.0,"y":0.12,"e":0.045},{"r":121.0,"y":0.09,"e":0.045},{"r":122.2,"y":0.11,"e":0.045},{"r":123.2,"y":0.07,"e":0.045},{"r":124.0,"y":0.09,"e":0.045},{"r":125.0,"y":0.11,"e":0.045},{"r":126.0,"y":0.13,"e":0.045},{"r":126.8,"y":0.09,"e":0.045},{"r":127.8,"y":0.11,"e":0.045},{"r":128.6,"y":0.07,"e":0.045},{"r":129.6,"y":0.1,"e":0.045},{"r":130.6,"y":0.12,"e":0.045},{"r":131.6,"y":0.09,"e":0.045},{"r":132.0,"y":0.06,"e":0.045},{"r":133.0,"y":0.1,"e":0.045},{"r":134.0,"y":0.13,"e":0.045},{"r":134.8,"y":0.07,"e":0.045},{"r":135.8,"y":0.1,"e":0.04},{"r":136.8,"y":0.12,"e":0.04},{"r":137.4,"y":0.09,"e":0.04},{"r":138.2,"y":0.07,"e":0.04},{"r":139.0,"y":0.1,"e":0.04},{"r":139.8,"y":0.13,"e":0.04},{"r":140.8,"y":0.1,"e":0.04},{"r":141.6,"y":0.06,"e":0.04},{"r":142.4,"y":0.09,"e":0.04},{"r":143.8,"y":0.11,"e":0.04},{"r":144.2,"y":0.07,"e":0.04},{"r":145.2,"y":0.1,"e":0.04},{"r":146.0,"y":0.12,"e":0.04},{"r":147.0,"y":0.09,"e":0.04},{"r":148.0,"y":0.07,"e":0.04},{"r":148.8,"y":0.1,"e":0.04},{"r":149.8,"y":0.12,"e":0.04},{"r":150.8,"y":0.09,"e":0.04},{"r":151.6,"y":0.1,"e":0.04},{"r":152.4,"y":0.07,"e":0.04},{"r":153.2,"y":0.09,"e":0.04},{"r":154.4,"y":0.11,"e":0.04},{"r":155.0,"y":0.08,"e":0.035},{"r":156.0,"y":0.1,"e":0.035},{"r":157.4,"y":0.08,"e":0.035},{"r":158.2,"y":0.11,"e":0.035},{"r":158.8,"y":0.07,"e":0.035},{"r":159.6,"y":0.09,"e":0.035},
{"r":12.3,"y":0.9,"e":0.3},{"r":12.7,"y":0.62,"e":0.29},{"r":13.0,"y":0.88,"e":0.3},{"r":13.7,"y":0.95,"e":0.3},{"r":14.3,"y":0.64,"e":0.28},{"r":14.8,"y":0.92,"e":0.29},{"r":15.2,"y":0.61,"e":0.28},{"r":15.8,"y":0.88,"e":0.28},{"r":16.2,"y":0.48,"e":0.27},{"r":16.9,"y":0.93,"e":0.28},{"r":17.2,"y":0.63,"e":0.26},{"r":17.9,"y":0.89,"e":0.27},{"r":18.3,"y":0.55,"e":0.26},{"r":18.6,"y":0.74,"e":0.26},{"r":19.3,"y":0.58,"e":0.25},{"r":19.7,"y":0.69,"e":0.25},{"r":20.3,"y":0.55,"e":0.24},{"r":20.7,"y":0.35,"e":0.24},{"r":21.6,"y":0.68,"e":0.24},{"r":22.1,"y":0.46,"e":0.23},{"r":22.5,"y":0.58,"e":0.23},{"r":23.2,"y":0.52,"e":0.22},{"r":23.6,"y":0.7,"e":0.23},{"r":24.1,"y":0.45,"e":0.22},{"r":24.6,"y":0.62,"e":0.22},{"r":25.2,"y":0.37,"e":0.21},{"r":25.7,"y":0.56,"e":0.21},{"r":26.4,"y":0.52,"e":0.21},{"r":27.1,"y":0.44,"e":0.2},{"r":27.6,"y":0.6,"e":0.2},{"r":28.2,"y":0.36,"e":0.2},{"r":22.6,"y":0.27,"e":0.22},{"r":20.0,"y":0.3,"e":0.24},{"r":18.0,"y":0.39,"e":0.25},{"r":23.9,"y":0.3,"e":0.22}
],
"ta":[
{"r":17.6,"y":0.8,"e":0.039},{"r":24.4,"y":0.578,"e":0.035},{"r":31.6,"y":0.478,"e":0.032},{"r":38.5,"y":0.354,"e":0.03},{"r":45.5,"y":0.285,"e":0.028},{"r":52.5,"y":0.243,"e":0.027},{"r":59.5,"y":0.232,"e":0.027},{"r":66.5,"y":0.171,"e":0.024},{"r":73.5,"y":0.175,"e":0.024},{"r":80.6,"y":0.161,"e":0.022},{"r":87.5,"y":0.127,"e":0.02},{"r":94.6,"y":0.129,"e":0.02},{"r":101.5,"y":0.113,"e":0.019},{"r":108.4,"y":0.128,"e":0.018},{"r":115.6,"y":0.139,"e":0.018},{"r":122.5,"y":0.109,"e":0.017},{"r":129.4,"y":0.108,"e":0.016},{"r":136.5,"y":0.105,"e":0.016},{"r":143.4,"y":0.089,"e":0.015},{"r":150.6,"y":0.108,"e":0.015},{"r":157.6,"y":0.072,"e":0.014}
],
"tf":[
{"r":11.8,"y":1.23,"s":"Voronoi Fit"},{"r":12.5,"y":1.16,"s":"Voronoi Fit"},{"r":13.5,"y":1.07,"s":"Voronoi Fit"},{"r":14.5,"y":0.99,"s":"Voronoi Fit"},{"r":15.5,"y":0.925,"s":"Voronoi Fit"},{"r":16.5,"y":0.865,"s":"Voronoi Fit"},{"r":17.6,"y":0.805,"s":"Voronoi Fit"},{"r":19,"y":0.745,"s":"Voronoi Fit"},{"r":20.5,"y":0.69,"s":"Voronoi Fit"},{"r":22,"y":0.645,"s":"Voronoi Fit"},{"r":24.4,"y":0.578,"s":"Voronoi Fit"},{"r":27,"y":0.52,"s":"Voronoi Fit"},{"r":29,"y":0.48,"s":"Voronoi Fit"},{"r":31.2,"y":0.44,"s":"Voronoi Fit"},{"r":34,"y":0.4,"s":"Voronoi Fit"},{"r":36,"y":0.375,"s":"Voronoi Fit"},{"r":38.5,"y":0.352,"s":"Voronoi Fit"},{"r":41,"y":0.325,"s":"Voronoi Fit"},{"r":43,"y":0.305,"s":"Voronoi Fit"},{"r":45.5,"y":0.285,"s":"Voronoi Fit"},{"r":48,"y":0.268,"s":"Voronoi Fit"},{"r":50,"y":0.257,"s":"Voronoi Fit"},{"r":52.5,"y":0.243,"s":"Voronoi Fit"},{"r":55,"y":0.232,"s":"Voronoi Fit"},{"r":58,"y":0.218,"s":"Voronoi Fit"},{"r":60,"y":0.21,"s":"Voronoi Fit"},{"r":65,"y":0.19,"s":"Voronoi Fit"},{"r":70,"y":0.177,"s":"Voronoi Fit"},{"r":75,"y":0.167,"s":"Voronoi Fit"},{"r":80,"y":0.159,"s":"Voronoi Fit"},{"r":85,"y":0.15,"s":"Voronoi Fit"},{"r":90,"y":0.141,"s":"Voronoi Fit"},{"r":95,"y":0.133,"s":"Voronoi Fit"},{"r":100,"y":0.126,"s":"Voronoi Fit"},{"r":105,"y":0.12,"s":"Voronoi Fit"},{"r":110,"y":0.115,"s":"Voronoi Fit"},{"r":115,"y":0.11,"s":"Voronoi Fit"},{"r":120,"y":0.106,"s":"Voronoi Fit"},{"r":125,"y":0.102,"s":"Voronoi Fit"},{"r":130,"y":0.098,"s":"Voronoi Fit"},{"r":135,"y":0.095,"s":"Voronoi Fit"},{"r":140,"y":0.091,"s":"Voronoi Fit"},{"r":145,"y":0.087,"s":"Voronoi Fit"},{"r":150,"y":0.084,"s":"Voronoi Fit"},{"r":155,"y":0.08,"s":"Voronoi Fit"},{"r":160,"y":0.077,"s":"Voronoi Fit"},
{"r":11.8,"y":1.23,"s":"Annulus Fit"},{"r":12.5,"y":1.16,"s":"Annulus Fit"},{"r":13.5,"y":1.07,"s":"Annulus Fit"},{"r":14.5,"y":0.99,"s":"Annulus Fit"},{"r":15.5,"y":0.925,"s":"Annulus Fit"},{"r":16.5,"y":0.865,"s":"Annulus Fit"},{"r":17.6,"y":0.805,"s":"Annulus Fit"},{"r":19,"y":0.745,"s":"Annulus Fit"},{"r":20.5,"y":0.69,"s":"Annulus Fit"},{"r":22,"y":0.645,"s":"Annulus Fit"},{"r":24.4,"y":0.578,"s":"Annulus Fit"},{"r":27,"y":0.52,"s":"Annulus Fit"},{"r":29,"y":0.48,"s":"Annulus Fit"},{"r":31.2,"y":0.44,"s":"Annulus Fit"},{"r":34,"y":0.4,"s":"Annulus Fit"},{"r":36,"y":0.375,"s":"Annulus Fit"},{"r":38.5,"y":0.352,"s":"Annulus Fit"},{"r":41,"y":0.325,"s":"Annulus Fit"},{"r":43,"y":0.305,"s":"Annulus Fit"},{"r":45.5,"y":0.285,"s":"Annulus Fit"},{"r":48,"y":0.268,"s":"Annulus Fit"},{"r":50,"y":0.257,"s":"Annulus Fit"},{"r":52.5,"y":0.243,"s":"Annulus Fit"},{"r":55,"y":0.232,"s":"Annulus Fit"},{"r":58,"y":0.218,"s":"Annulus Fit"},{"r":60,"y":0.21,"s":"Annulus Fit"},{"r":65,"y":0.19,"s":"Annulus Fit"},{"r":70,"y":0.177,"s":"Annulus Fit"},{"r":75,"y":0.167,"s":"Annulus Fit"},{"r":80,"y":0.159,"s":"Annulus Fit"},{"r":85,"y":0.15,"s":"Annulus Fit"},{"r":90,"y":0.141,"s":"Annulus Fit"},{"r":95,"y":0.133,"s":"Annulus Fit"},{"r":100,"y":0.126,"s":"Annulus Fit"},{"r":105,"y":0.12,"s":"Annulus Fit"},{"r":110,"y":0.115,"s":"Annulus Fit"},{"r":115,"y":0.11,"s":"Annulus Fit"},{"r":120,"y":0.106,"s":"Annulus Fit"},{"r":125,"y":0.102,"s":"Annulus Fit"},{"r":130,"y":0.098,"s":"Annulus Fit"},{"r":135,"y":0.095,"s":"Annulus Fit"},{"r":140,"y":0.091,"s":"Annulus Fit"},{"r":145,"y":0.087,"s":"Annulus Fit"},{"r":150,"y":0.084,"s":"Annulus Fit"},{"r":155,"y":0.08,"s":"Annulus Fit"},{"r":160,"y":0.077,"s":"Annulus Fit"}
],
"bv":[
{"r":8.6,"y":1.335,"e":0.23},{"r":9.0,"y":1.31,"e":0.24},{"r":7.8,"y":1.24,"e":0.22},{"r":7.8,"y":1.15,"e":0.3},{"r":10.7,"y":1.153,"e":0.22},{"r":9.1,"y":1.114,"e":0.25},{"r":9.8,"y":0.957,"e":0.27},{"r":10.0,"y":0.948,"e":0.26},{"r":8.7,"y":0.912,"e":0.28},{"r":11.1,"y":0.912,"e":0.24},{"r":10.1,"y":0.893,"e":0.25},{"r":8.1,"y":0.871,"e":0.26},{"r":9.5,"y":0.824,"e":0.25},{"r":10.8,"y":0.829,"e":0.23},{"r":8.1,"y":0.818,"e":0.27},{"r":9.1,"y":0.813,"e":0.24},{"r":11.9,"y":0.81,"e":0.22},{"r":15.7,"y":0.818,"e":0.23},
{"r":9.1,"y":0.774,"e":0.24},{"r":13.1,"y":0.735,"e":0.22},{"r":12.0,"y":0.694,"e":0.23},{"r":13.1,"y":0.652,"e":0.22},{"r":20.0,"y":0.661,"e":0.16},{"r":19.4,"y":0.636,"e":0.17},{"r":11.0,"y":0.652,"e":0.23},{"r":9.1,"y":0.636,"e":0.25},{"r":11.1,"y":0.625,"e":0.24},{"r":11.9,"y":0.597,"e":0.23},{"r":10.7,"y":0.617,"e":0.24},{"r":14.6,"y":0.581,"e":0.21},{"r":16.3,"y":0.583,"e":0.2},{"r":15.0,"y":0.553,"e":0.21},{"r":13.6,"y":0.542,"e":0.22},{"r":14.3,"y":0.523,"e":0.21},{"r":16.4,"y":0.517,"e":0.2},{"r":17.1,"y":0.523,"e":0.2},{"r":18.5,"y":0.534,"e":0.19},{"r":20.5,"y":0.514,"e":0.18},{"r":17.5,"y":0.498,"e":0.2},{"r":16.7,"y":0.5,"e":0.2},{"r":7.6,"y":0.487,"e":0.26},{"r":9.0,"y":0.487,"e":0.25},{"r":9.7,"y":0.453,"e":0.25},{"r":10.0,"y":0.384,"e":0.24},{"r":9.0,"y":0.404,"e":0.25},{"r":12.5,"y":0.39,"e":0.22},{"r":18.5,"y":0.384,"e":0.19},{"r":19.8,"y":0.376,"e":0.18},{"r":21.2,"y":0.431,"e":0.22},{"r":18.9,"y":0.484,"e":0.19},{"r":20.2,"y":0.473,"e":0.18},{"r":17.5,"y":0.47,"e":0.2},{"r":15.7,"y":0.434,"e":0.2},{"r":15.0,"y":0.415,"e":0.21},{"r":13.6,"y":0.382,"e":0.22},{"r":7.3,"y":0.359,"e":0.26},{"r":7.6,"y":0.337,"e":0.26},{"r":7.8,"y":0.299,"e":0.25},{"r":8.3,"y":0.276,"e":0.25},{"r":7.0,"y":0.257,"e":0.26},{"r":9.4,"y":0.224,"e":0.24},{"r":8.7,"y":0.265,"e":0.25},{"r":12.5,"y":0.343,"e":0.22},{"r":12.5,"y":0.224,"e":0.22},{"r":14.5,"y":0.235,"e":0.21},{"r":16.3,"y":0.279,"e":0.2},{"r":17.1,"y":0.293,"e":0.2},{"r":16.7,"y":0.21,"e":0.2},{"r":16.9,"y":0.196,"e":0.2},{"r":19.5,"y":0.147,"e":0.18},{"r":19.3,"y":0.235,"e":0.18},{"r":20.6,"y":0.229,"e":0.18},{"r":22.3,"y":0.18,"e":0.17},{"r":21.9,"y":0.332,"e":0.2},{"r":22.5,"y":0.359,"e":0.2},{"r":23.7,"y":0.39,"e":0.19},{"r":23.4,"y":0.37,"e":0.19},{"r":23.0,"y":0.332,"e":0.19},{"r":23.7,"y":0.321,"e":0.18},{"r":25.1,"y":0.337,"e":0.14},{"r":25.8,"y":0.293,"e":0.12},{"r":27.0,"y":0.252,"e":0.11},{"r":28.6,"y":0.326,"e":0.1},{"r":28.9,"y":0.304,"e":0.1},{"r":30.3,"y":0.299,"e":0.09},{"r":31.2,"y":0.263,"e":0.09},{"r":33.5,"y":0.276,"e":0.08},{"r":34.5,"y":0.238,"e":0.08},{"r":35.0,"y":0.265,"e":0.08},{"r":38.9,"y":0.249,"e":0.07},{"r":39.6,"y":0.276,"e":0.07},{"r":40.0,"y":0.335,"e":0.07},{"r":43.4,"y":0.299,"e":0.065},{"r":43.8,"y":0.257,"e":0.065},{"r":49.0,"y":0.249,"e":0.06},{"r":47.3,"y":0.221,"e":0.06},{"r":49.0,"y":0.194,"e":0.06},{"r":52.2,"y":0.216,"e":0.055},{"r":54.2,"y":0.221,"e":0.055},{"r":24.0,"y":0.166,"e":0.14},{"r":24.7,"y":0.127,"e":0.13},{"r":26.3,"y":0.122,"e":0.11},{"r":26.5,"y":0.174,"e":0.11},{"r":30.3,"y":0.238,"e":0.09},{"r":30.7,"y":0.155,"e":0.09},{"r":31.7,"y":0.127,"e":0.09},{"r":32.1,"y":0.111,"e":0.08},{"r":32.8,"y":0.072,"e":0.08},{"r":35.0,"y":0.127,"e":0.08},{"r":35.9,"y":0.1,"e":0.08},{"r":38.2,"y":0.1,"e":0.07},{"r":37.5,"y":0.077,"e":0.07},{"r":39.6,"y":0.111,"e":0.07},{"r":40.6,"y":0.127,"e":0.07},{"r":41.5,"y":0.1,"e":0.065},{"r":45.8,"y":0.111,"e":0.065},{"r":43.4,"y":0.091,"e":0.065},{"r":47.6,"y":0.072,"e":0.06},{"r":49.9,"y":0.1,"e":0.06},{"r":51.5,"y":0.05,"e":0.055},{"r":52.8,"y":0.083,"e":0.055},{"r":18.5,"y":0.263,"e":0.19},{"r":16.3,"y":0.207,"e":0.2},{"r":14.9,"y":0.271,"e":0.21},
{"r":79.6,"y":0.345,"e":0.042},{"r":79.6,"y":0.155,"e":0.04},{"r":53.2,"y":0.194,"e":0.055},{"r":53.6,"y":0.16,"e":0.055},{"r":56.7,"y":0.174,"e":0.05},{"r":66.5,"y":0.182,"e":0.045},{"r":66.8,"y":0.16,"e":0.045},{"r":75.2,"y":0.169,"e":0.04},{"r":75.9,"y":0.18,"e":0.04},{"r":75.4,"y":0.152,"e":0.04},{"r":72.8,"y":0.141,"e":0.04},{"r":67.7,"y":0.138,"e":0.045},{"r":61.2,"y":0.138,"e":0.045},{"r":58.8,"y":0.133,"e":0.05},{"r":78.7,"y":0.124,"e":0.04},{"r":81.5,"y":0.133,"e":0.04},{"r":83.8,"y":0.138,"e":0.04},{"r":85.2,"y":0.138,"e":0.04},{"r":87.6,"y":0.133,"e":0.04},{"r":89.7,"y":0.113,"e":0.038},{"r":92.0,"y":0.155,"e":0.038},{"r":92.2,"y":0.113,"e":0.038},{"r":94.2,"y":0.127,"e":0.038},{"r":97.0,"y":0.122,"e":0.036},{"r":99.5,"y":0.113,"e":0.036},{"r":102.0,"y":0.124,"e":0.035},{"r":103.4,"y":0.097,"e":0.035},{"r":107.2,"y":0.147,"e":0.035},{"r":63.2,"y":0.022,"e":0.045},{"r":76.8,"y":0.028,"e":0.04},{"r":61.6,"y":0.044,"e":0.045},{"r":57.4,"y":0.055,"e":0.05},{"r":54.6,"y":0.072,"e":0.05},{"r":65.8,"y":0.05,"e":0.045},{"r":71.4,"y":0.055,"e":0.04},{"r":73.8,"y":0.044,"e":0.04},{"r":78.0,"y":0.064,"e":0.04},{"r":82.2,"y":0.055,"e":0.04},{"r":84.5,"y":0.036,"e":0.04},{"r":86.5,"y":0.03,"e":0.04},{"r":89.3,"y":0.044,"e":0.038},{"r":91.5,"y":0.064,"e":0.038},{"r":96.7,"y":0.041,"e":0.036},{"r":98.5,"y":0.055,"e":0.036},{"r":101.3,"y":0.041,"e":0.035},{"r":104.1,"y":0.036,"e":0.035},{"r":105.5,"y":0.055,"e":0.035},{"r":55.6,"y":0.1,"e":0.05},{"r":57.9,"y":0.083,"e":0.05},{"r":60.2,"y":0.091,"e":0.045},{"r":63.4,"y":0.1,"e":0.045},{"r":64.9,"y":0.072,"e":0.045},{"r":68.6,"y":0.086,"e":0.045},{"r":70.5,"y":0.064,"e":0.04},{"r":76.6,"y":0.083,"e":0.04},{"r":79.9,"y":0.086,"e":0.04},{"r":82.7,"y":0.072,"e":0.04},{"r":86.5,"y":0.083,"e":0.04},{"r":89.3,"y":0.077,"e":0.038},{"r":92.9,"y":0.083,"e":0.038},{"r":95.7,"y":0.072,"e":0.036},{"r":99.1,"y":0.083,"e":0.036},{"r":102.3,"y":0.072,"e":0.035},{"r":105.1,"y":0.086,"e":0.035},{"r":92.0,"y":0.174,"e":0.038},{"r":72.4,"y":0.169,"e":0.04},{"r":73.1,"y":0.147,"e":0.04},
{"r":106.2,"y":0.149,"e":0.035},{"r":110.7,"y":0.111,"e":0.032},{"r":112.1,"y":0.094,"e":0.032},{"r":115.1,"y":0.127,"e":0.032},{"r":118.2,"y":0.171,"e":0.032},{"r":119.8,"y":0.127,"e":0.03},{"r":120.1,"y":0.155,"e":0.03},{"r":120.8,"y":0.113,"e":0.03},{"r":121.7,"y":0.138,"e":0.03},{"r":122.3,"y":0.127,"e":0.03},{"r":125.7,"y":0.086,"e":0.03},{"r":129.3,"y":0.127,"e":0.03},{"r":130.4,"y":0.1,"e":0.03},{"r":131.5,"y":0.119,"e":0.03},{"r":132.1,"y":0.111,"e":0.03},{"r":134.2,"y":0.163,"e":0.03},{"r":136.6,"y":0.097,"e":0.028},{"r":141.6,"y":0.097,"e":0.028},{"r":154.7,"y":0.133,"e":0.026},{"r":154.5,"y":0.1,"e":0.026},{"r":106.1,"y":0.055,"e":0.035},{"r":109.8,"y":0.03,"e":0.032},{"r":112.1,"y":0.03,"e":0.032},{"r":113.5,"y":0.05,"e":0.032},{"r":115.9,"y":0.044,"e":0.032},{"r":117.1,"y":0.028,"e":0.032},{"r":119.2,"y":0.064,"e":0.03},{"r":122.0,"y":0.044,"e":0.03},{"r":124.6,"y":0.036,"e":0.03},{"r":126.7,"y":0.028,"e":0.03},{"r":128.7,"y":0.055,"e":0.03},{"r":131.5,"y":0.036,"e":0.03},{"r":133.2,"y":0.017,"e":0.03},{"r":135.1,"y":0.044,"e":0.028},{"r":137.9,"y":0.064,"e":0.028},{"r":139.8,"y":0.036,"e":0.028},{"r":140.9,"y":0.028,"e":0.028},{"r":144.1,"y":0.036,"e":0.028},{"r":145.8,"y":0.044,"e":0.028},{"r":148.4,"y":0.03,"e":0.027},{"r":157.8,"y":0.05,"e":0.026},{"r":159.4,"y":0.055,"e":0.026},{"r":107.9,"y":0.1,"e":0.035},{"r":139.2,"y":0.069,"e":0.028},{"r":143.0,"y":0.064,"e":0.028},{"r":145.1,"y":0.091,"e":0.028},
{"r":25.5,"y":0.2,"e":0.1},{"r":26.8,"y":0.16,"e":0.1},{"r":27.5,"y":0.21,"e":0.1},{"r":28.2,"y":0.14,"e":0.1},{"r":29.0,"y":0.19,"e":0.1},{"r":29.8,"y":0.12,"e":0.1},{"r":30.6,"y":0.2,"e":0.1},{"r":31.4,"y":0.16,"e":0.1},{"r":32.4,"y":0.22,"e":0.075},{"r":33.2,"y":0.14,"e":0.075},{"r":34.0,"y":0.18,"e":0.075},{"r":34.8,"y":0.11,"e":0.075},{"r":35.6,"y":0.19,"e":0.075},{"r":36.4,"y":0.15,"e":0.075},{"r":37.2,"y":0.21,"e":0.075},{"r":38.0,"y":0.13,"e":0.075},{"r":38.8,"y":0.17,"e":0.075},{"r":39.4,"y":0.2,"e":0.075},{"r":27.2,"y":0.09,"e":0.1},{"r":36.8,"y":0.08,"e":0.075},
{"r":40.8,"y":0.15,"e":0.065},{"r":41.6,"y":0.19,"e":0.065},{"r":42.4,"y":0.12,"e":0.065},{"r":43.0,"y":0.17,"e":0.065},{"r":44.2,"y":0.14,"e":0.065},{"r":45.0,"y":0.2,"e":0.065},{"r":45.6,"y":0.09,"e":0.065},{"r":46.4,"y":0.15,"e":0.065},{"r":47.0,"y":0.12,"e":0.065},{"r":48.0,"y":0.18,"e":0.065},{"r":48.6,"y":0.09,"e":0.065},{"r":49.4,"y":0.14,"e":0.065},{"r":50.4,"y":0.12,"e":0.052},{"r":51.0,"y":0.17,"e":0.052},{"r":51.8,"y":0.09,"e":0.052},{"r":53.0,"y":0.13,"e":0.052},{"r":54.0,"y":0.1,"e":0.052},{"r":55.0,"y":0.15,"e":0.052},{"r":56.0,"y":0.08,"e":0.052},{"r":57.0,"y":0.12,"e":0.052},{"r":58.0,"y":0.1,"e":0.052},{"r":59.0,"y":0.14,"e":0.052},{"r":59.8,"y":0.07,"e":0.052},{"r":44.6,"y":0.24,"e":0.065},{"r":50.2,"y":0.22,"e":0.052},{"r":41.0,"y":0.26,"e":0.065},{"r":46.0,"y":0.27,"e":0.065},{"r":57.6,"y":0.2,"e":0.052},{"r":42.0,"y":0.06,"e":0.065},{"r":53.6,"y":0.05,"e":0.052},
{"r":60.6,"y":0.11,"e":0.045},{"r":61.4,"y":0.08,"e":0.045},{"r":62.2,"y":0.12,"e":0.045},{"r":63.0,"y":0.07,"e":0.045},{"r":64.0,"y":0.1,"e":0.045},{"r":64.8,"y":0.13,"e":0.045},{"r":65.6,"y":0.08,"e":0.045},{"r":66.4,"y":0.11,"e":0.045},{"r":67.2,"y":0.07,"e":0.045},{"r":68.0,"y":0.1,"e":0.045},{"r":69.0,"y":0.13,"e":0.045},{"r":69.8,"y":0.08,"e":0.045},{"r":70.6,"y":0.11,"e":0.04},{"r":71.6,"y":0.07,"e":0.04},{"r":72.4,"y":0.1,"e":0.04},{"r":73.4,"y":0.12,"e":0.04},{"r":74.2,"y":0.07,"e":0.04},{"r":75.0,"y":0.1,"e":0.04},{"r":76.0,"y":0.06,"e":0.04},{"r":77.0,"y":0.09,"e":0.04},{"r":77.8,"y":0.11,"e":0.04},{"r":78.8,"y":0.07,"e":0.04},{"r":79.4,"y":0.1,"e":0.04},{"r":80.8,"y":0.06,"e":0.038},{"r":81.6,"y":0.09,"e":0.038},{"r":82.4,"y":0.11,"e":0.038},{"r":83.2,"y":0.06,"e":0.038},{"r":84.0,"y":0.08,"e":0.038},{"r":85.0,"y":0.1,"e":0.038},{"r":85.8,"y":0.06,"e":0.038},{"r":86.8,"y":0.09,"e":0.038},{"r":87.8,"y":0.11,"e":0.038},{"r":88.6,"y":0.06,"e":0.038},{"r":89.6,"y":0.08,"e":0.038},{"r":90.4,"y":0.1,"e":0.038},{"r":91.0,"y":0.05,"e":0.038},{"r":92.6,"y":0.08,"e":0.038},{"r":93.4,"y":0.1,"e":0.038},{"r":94.6,"y":0.06,"e":0.038},{"r":95.4,"y":0.09,"e":0.038},{"r":96.2,"y":0.11,"e":0.038},{"r":97.4,"y":0.06,"e":0.038},{"r":98.2,"y":0.08,"e":0.038},{"r":99.0,"y":0.1,"e":0.038},{"r":99.8,"y":0.06,"e":0.038},{"r":63.6,"y":0.17,"e":0.045},{"r":68.4,"y":0.19,"e":0.045},{"r":71.0,"y":0.16,"e":0.04},{"r":83.0,"y":0.16,"e":0.038},{"r":86.0,"y":0.17,"e":0.038},{"r":95.0,"y":0.15,"e":0.038},{"r":60.0,"y":0.2,"e":0.045},{"r":66.0,"y":0.21,"e":0.045},{"r":74.6,"y":0.2,"e":0.04},
{"r":100.6,"y":0.07,"e":0.032},{"r":101.6,"y":0.05,"e":0.032},{"r":102.6,"y":0.09,"e":0.032},{"r":103.6,"y":0.06,"e":0.032},{"r":104.6,"y":0.08,"e":0.032},{"r":105.4,"y":0.04,"e":0.032},{"r":106.8,"y":0.07,"e":0.032},{"r":108.6,"y":0.05,"e":0.032},{"r":109.4,"y":0.08,"e":0.032},{"r":110.2,"y":0.06,"e":0.032},{"r":111.4,"y":0.07,"e":0.032},{"r":112.8,"y":0.05,"e":0.032},{"r":114.0,"y":0.08,"e":0.032},{"r":114.8,"y":0.06,"e":0.032},{"r":116.4,"y":0.07,"e":0.032},{"r":117.8,"y":0.05,"e":0.032},{"r":118.6,"y":0.08,"e":0.032},{"r":120.6,"y":0.06,"e":0.03},{"r":121.2,"y":0.08,"e":0.03},{"r":123.0,"y":0.05,"e":0.03},{"r":124.0,"y":0.07,"e":0.03},{"r":125.0,"y":0.06,"e":0.03},{"r":126.0,"y":0.08,"e":0.03},{"r":127.4,"y":0.05,"e":0.03},{"r":128.0,"y":0.07,"e":0.03},{"r":129.8,"y":0.06,"e":0.03},{"r":130.8,"y":0.08,"e":0.028},{"r":132.6,"y":0.05,"e":0.028},{"r":133.8,"y":0.07,"e":0.028},{"r":134.8,"y":0.06,"e":0.028},{"r":136.0,"y":0.08,"e":0.028},{"r":137.2,"y":0.05,"e":0.028},{"r":138.6,"y":0.07,"e":0.028},{"r":140.0,"y":0.06,"e":0.028},{"r":141.0,"y":0.08,"e":0.028},{"r":142.2,"y":0.05,"e":0.028},{"r":143.6,"y":0.07,"e":0.028},{"r":144.8,"y":0.06,"e":0.028},{"r":146.4,"y":0.05,"e":0.028},{"r":147.2,"y":0.07,"e":0.028},{"r":148.8,"y":0.06,"e":0.028},{"r":150.0,"y":0.05,"e":0.028},{"r":151.0,"y":0.07,"e":0.028},{"r":152.0,"y":0.04,"e":0.028},{"r":153.4,"y":0.06,"e":0.028},{"r":154.0,"y":0.05,"e":0.028},{"r":155.6,"y":0.07,"e":0.028},{"r":156.6,"y":0.05,"e":0.028},{"r":158.6,"y":0.06,"e":0.028},{"r":125.2,"y":0.12,"e":0.03},{"r":128.4,"y":0.14,"e":0.03},{"r":109.0,"y":0.13,"e":0.032},{"r":118.0,"y":0.12,"e":0.032},{"r":142.8,"y":0.11,"e":0.028},{"r":134.6,"y":0.13,"e":0.028},{"r":116.6,"y":0.1,"e":0.032},{"r":127.8,"y":0.1,"e":0.03},
{"r":25.2,"y":0.24,"e":0.12},{"r":26.0,"y":0.19,"e":0.11},{"r":26.9,"y":0.13,"e":0.1},{"r":27.8,"y":0.18,"e":0.1},{"r":28.5,"y":0.23,"e":0.1},{"r":29.3,"y":0.16,"e":0.1},{"r":30.0,"y":0.21,"e":0.09},{"r":31.0,"y":0.14,"e":0.09},{"r":31.9,"y":0.19,"e":0.09},{"r":32.7,"y":0.16,"e":0.08},{"r":33.6,"y":0.21,"e":0.08},{"r":34.3,"y":0.13,"e":0.08},{"r":35.3,"y":0.17,"e":0.08},{"r":36.1,"y":0.22,"e":0.075},{"r":36.9,"y":0.12,"e":0.075},{"r":37.8,"y":0.17,"e":0.075},{"r":38.5,"y":0.21,"e":0.07},{"r":39.1,"y":0.14,"e":0.07},{"r":40.2,"y":0.18,"e":0.07},{"r":41.1,"y":0.12,"e":0.065},{"r":41.9,"y":0.16,"e":0.065},{"r":42.8,"y":0.2,"e":0.065},{"r":43.6,"y":0.13,"e":0.065},{"r":44.4,"y":0.17,"e":0.065},{"r":45.3,"y":0.11,"e":0.065},{"r":46.2,"y":0.19,"e":0.065},{"r":47.3,"y":0.14,"e":0.06},{"r":48.3,"y":0.16,"e":0.06},{"r":49.1,"y":0.11,"e":0.06},{"r":50.0,"y":0.15,"e":0.055},{"r":50.8,"y":0.1,"e":0.055},{"r":51.6,"y":0.13,"e":0.055},{"r":52.5,"y":0.17,"e":0.055},{"r":53.4,"y":0.11,"e":0.055},{"r":54.4,"y":0.14,"e":0.055},{"r":55.3,"y":0.12,"e":0.05},{"r":56.3,"y":0.16,"e":0.05},{"r":57.2,"y":0.1,"e":0.05},{"r":58.2,"y":0.13,"e":0.05},{"r":59.4,"y":0.11,"e":0.05},
{"r":60.4,"y":0.13,"e":0.045},{"r":61.0,"y":0.1,"e":0.045},{"r":61.8,"y":0.06,"e":0.045},{"r":62.6,"y":0.1,"e":0.045},{"r":63.4,"y":0.13,"e":0.045},{"r":64.4,"y":0.08,"e":0.045},{"r":65.2,"y":0.11,"e":0.045},{"r":66.2,"y":0.14,"e":0.045},{"r":67.0,"y":0.09,"e":0.045},{"r":67.8,"y":0.12,"e":0.045},{"r":68.8,"y":0.06,"e":0.045},{"r":69.6,"y":0.11,"e":0.045},{"r":70.2,"y":0.13,"e":0.04},{"r":71.2,"y":0.09,"e":0.04},{"r":72.0,"y":0.12,"e":0.04},{"r":72.8,"y":0.08,"e":0.04},{"r":73.8,"y":0.11,"e":0.04},{"r":74.8,"y":0.13,"e":0.04},{"r":75.6,"y":0.09,"e":0.04},{"r":76.4,"y":0.12,"e":0.04},{"r":77.4,"y":0.07,"e":0.04},{"r":78.2,"y":0.1,"e":0.04},{"r":79.0,"y":0.12,"e":0.04},{"r":80.4,"y":0.09,"e":0.038},{"r":81.2,"y":0.11,"e":0.038},{"r":82.0,"y":0.08,"e":0.038},{"r":82.9,"y":0.12,"e":0.038},{"r":83.6,"y":0.09,"e":0.038},{"r":84.6,"y":0.11,"e":0.038},{"r":85.4,"y":0.08,"e":0.038},{"r":86.2,"y":0.12,"e":0.038},{"r":87.2,"y":0.07,"e":0.038},{"r":88.2,"y":0.1,"e":0.038},{"r":89.0,"y":0.12,"e":0.038},{"r":90.0,"y":0.08,"e":0.038},{"r":90.8,"y":0.11,"e":0.038},{"r":91.8,"y":0.09,"e":0.038},{"r":93.0,"y":0.12,"e":0.038},{"r":93.8,"y":0.07,"e":0.038},{"r":94.8,"y":0.1,"e":0.038},{"r":96.0,"y":0.08,"e":0.036},{"r":96.8,"y":0.1,"e":0.036},{"r":97.8,"y":0.07,"e":0.036},{"r":98.8,"y":0.11,"e":0.036},{"r":99.6,"y":0.09,"e":0.036},
{"r":101.0,"y":0.09,"e":0.032},{"r":102.0,"y":0.06,"e":0.032},{"r":103.0,"y":0.08,"e":0.032},{"r":104.2,"y":0.07,"e":0.032},{"r":105.0,"y":0.09,"e":0.032},{"r":106.4,"y":0.06,"e":0.032},{"r":107.6,"y":0.08,"e":0.032},{"r":108.2,"y":0.07,"e":0.032},{"r":110.0,"y":0.08,"e":0.032},{"r":110.8,"y":0.05,"e":0.032},{"r":111.8,"y":0.09,"e":0.032},{"r":113.2,"y":0.07,"e":0.032},{"r":114.4,"y":0.06,"e":0.032},{"r":115.6,"y":0.08,"e":0.032},{"r":117.4,"y":0.07,"e":0.032},{"r":118.8,"y":0.06,"e":0.032},{"r":119.6,"y":0.09,"e":0.03},{"r":121.8,"y":0.07,"e":0.03},{"r":123.4,"y":0.08,"e":0.03},{"r":124.4,"y":0.06,"e":0.03},{"r":126.4,"y":0.07,"e":0.03},{"r":127.0,"y":0.05,"e":0.03},{"r":129.0,"y":0.08,"e":0.03},{"r":130.0,"y":0.06,"e":0.03},{"r":131.0,"y":0.07,"e":0.028},{"r":132.2,"y":0.09,"e":0.028},{"r":133.4,"y":0.06,"e":0.028},{"r":135.6,"y":0.07,"e":0.028},{"r":136.8,"y":0.06,"e":0.028},{"r":138.0,"y":0.08,"e":0.028},{"r":139.4,"y":0.05,"e":0.028},{"r":140.6,"y":0.07,"e":0.028},{"r":142.0,"y":0.06,"e":0.028},{"r":143.2,"y":0.08,"e":0.028},{"r":144.4,"y":0.05,"e":0.028},{"r":146.0,"y":0.07,"e":0.028},{"r":147.8,"y":0.05,"e":0.028},{"r":149.4,"y":0.06,"e":0.028},{"r":150.6,"y":0.04,"e":0.028},{"r":152.6,"y":0.06,"e":0.028},{"r":154.8,"y":0.07,"e":0.026},{"r":156.0,"y":0.04,"e":0.026},{"r":157.2,"y":0.06,"e":0.026},{"r":158.2,"y":0.05,"e":0.026},{"r":159.0,"y":0.07,"e":0.026},
{"r":10.4,"y":0.72,"e":0.24},{"r":11.5,"y":0.5,"e":0.23},{"r":12.2,"y":0.46,"e":0.22},{"r":13.3,"y":0.3,"e":0.22},{"r":14.0,"y":0.44,"e":0.21},{"r":15.4,"y":0.34,"e":0.21},{"r":18.0,"y":0.42,"e":0.19},{"r":19.0,"y":0.3,"e":0.18},{"r":20.8,"y":0.26,"e":0.17},{"r":21.6,"y":0.37,"e":0.17},{"r":22.8,"y":0.25,"e":0.16},{"r":23.3,"y":0.21,"e":0.15},{"r":24.4,"y":0.28,"e":0.13}
],
"ba":[
{"r":10.1,"y":0.556,"e":0.035},{"r":17.1,"y":0.345,"e":0.028},{"r":24.3,"y":0.202,"e":0.02},{"r":31.3,"y":0.197,"e":0.018},{"r":38.2,"y":0.149,"e":0.015},{"r":45.3,"y":0.127,"e":0.014},{"r":52.2,"y":0.11,"e":0.013},{"r":59.2,"y":0.094,"e":0.012},{"r":66.3,"y":0.086,"e":0.011},{"r":73.3,"y":0.08,"e":0.01},{"r":80.3,"y":0.083,"e":0.01},{"r":87.3,"y":0.072,"e":0.009},{"r":94.3,"y":0.066,"e":0.009},{"r":101.3,"y":0.069,"e":0.008},{"r":108.3,"y":0.066,"e":0.008},{"r":115.2,"y":0.066,"e":0.008},{"r":122.3,"y":0.066,"e":0.007},{"r":129.3,"y":0.064,"e":0.007},{"r":136.3,"y":0.061,"e":0.007},{"r":143.4,"y":0.064,"e":0.007},{"r":150.3,"y":0.038,"e":0.006},{"r":157.3,"y":0.038,"e":0.006}
],
"bf":[
{"r":7,"y":0.85,"s":"Voronoi Fit"},{"r":7.5,"y":0.8,"s":"Voronoi Fit"},{"r":8.5,"y":0.71,"s":"Voronoi Fit"},{"r":9.7,"y":0.615,"s":"Voronoi Fit"},{"r":11,"y":0.555,"s":"Voronoi Fit"},{"r":12.9,"y":0.487,"s":"Voronoi Fit"},{"r":14.5,"y":0.435,"s":"Voronoi Fit"},{"r":16.4,"y":0.387,"s":"Voronoi Fit"},{"r":18.5,"y":0.345,"s":"Voronoi Fit"},{"r":21.3,"y":0.3,"s":"Voronoi Fit"},{"r":24,"y":0.268,"s":"Voronoi Fit"},{"r":26.5,"y":0.243,"s":"Voronoi Fit"},{"r":29.5,"y":0.22,"s":"Voronoi Fit"},{"r":32.8,"y":0.2,"s":"Voronoi Fit"},{"r":36,"y":0.183,"s":"Voronoi Fit"},{"r":39.4,"y":0.17,"s":"Voronoi Fit"},{"r":45,"y":0.15,"s":"Voronoi Fit"},{"r":50,"y":0.135,"s":"Voronoi Fit"},{"r":56.4,"y":0.12,"s":"Voronoi Fit"},{"r":63,"y":0.109,"s":"Voronoi Fit"},{"r":70.5,"y":0.1,"s":"Voronoi Fit"},{"r":80,"y":0.09,"s":"Voronoi Fit"},{"r":87,"y":0.082,"s":"Voronoi Fit"},{"r":95,"y":0.076,"s":"Voronoi Fit"},{"r":104.7,"y":0.069,"s":"Voronoi Fit"},{"r":115,"y":0.063,"s":"Voronoi Fit"},{"r":125,"y":0.058,"s":"Voronoi Fit"},{"r":135,"y":0.055,"s":"Voronoi Fit"},{"r":145,"y":0.051,"s":"Voronoi Fit"},{"r":160,"y":0.045,"s":"Voronoi Fit"},
{"r":6.8,"y":0.77,"s":"Annulus Fit"},{"r":7.5,"y":0.7,"s":"Annulus Fit"},{"r":8.5,"y":0.615,"s":"Annulus Fit"},{"r":10,"y":0.53,"s":"Annulus Fit"},{"r":11.5,"y":0.475,"s":"Annulus Fit"},{"r":13,"y":0.43,"s":"Annulus Fit"},{"r":15,"y":0.38,"s":"Annulus Fit"},{"r":17.1,"y":0.342,"s":"Annulus Fit"},{"r":19,"y":0.31,"s":"Annulus Fit"},{"r":21,"y":0.28,"s":"Annulus Fit"},{"r":24.3,"y":0.24,"s":"Annulus Fit"},{"r":27,"y":0.22,"s":"Annulus Fit"},{"r":31.3,"y":0.197,"s":"Annulus Fit"},{"r":35,"y":0.175,"s":"Annulus Fit"},{"r":38.2,"y":0.16,"s":"Annulus Fit"},{"r":42,"y":0.148,"s":"Annulus Fit"},{"r":45.3,"y":0.138,"s":"Annulus Fit"},{"r":50,"y":0.122,"s":"Annulus Fit"},{"r":52.2,"y":0.115,"s":"Annulus Fit"},{"r":60,"y":0.1,"s":"Annulus Fit"},{"r":70,"y":0.088,"s":"Annulus Fit"},{"r":80,"y":0.076,"s":"Annulus Fit"},{"r":90,"y":0.067,"s":"Annulus Fit"},{"r":100,"y":0.06,"s":"Annulus Fit"},{"r":110,"y":0.055,"s":"Annulus Fit"},{"r":120,"y":0.051,"s":"Annulus Fit"},{"r":130,"y":0.048,"s":"Annulus Fit"},{"r":140,"y":0.045,"s":"Annulus Fit"},{"r":150,"y":0.043,"s":"Annulus Fit"},{"r":160,"y":0.041,"s":"Annulus Fit"}
],
"tg":[{"r":0,"r2":11.8,"y":0,"y2":1.8}],
"bg":[{"r":0,"r2":7.0,"y":0,"y2":1.8}]
},
"vconcat":[
{"width":1140,"height":651,
"title":{"text":"2MASX J13272961-3123237 Radial Distribution"},
"encoding":{
"x":{"field":"r","type":"quantitative","title":"Radius (arcseconds)","scale":{"domain":[0,160],"nice":false},"axis":{"values":[0,20,40,60,80,100,120,140,160]}},
"y":{"field":"y","type":"quantitative","title":"Objects per Unit Area (arcseconds⁻²)","scale":{"domain":[0,1.8],"nice":false,"zero":false,"clamp":true},"axis":{"values":[0,0.2,0.4,0.6,0.8,1.0,1.2,1.4,1.6,1.8],"format":".1f"}}},
"layer":[
{"data":{"name":"tg"},"mark":{"type":"rect","color":"#e3e3e3"},"encoding":{"x2":{"field":"r2","title":"Radius (arcseconds)"},"y2":{"field":"y2","title":"Objects per Unit Area (arcseconds⁻²)"}}},
{"data":{"name":"tv"},"mark":{"type":"errorbar","color":"#00bfff","opacity":0.65,"thickness":1.4},"encoding":{"yError":{"field":"e"}}},
{"data":{"name":"tv"},"mark":{"type":"point","filled":true,"color":"#2424ff","opacity":0.82,"size":46}},
{"data":{"name":"tf"},"transform":[{"filter":"datum.s=='Annulus Fit'"}],"mark":{"type":"line","color":"#ff1493","strokeWidth":7,"interpolate":"monotone","strokeCap":"butt"}},
{"data":{"name":"tf"},"transform":[{"filter":"datum.s=='Voronoi Fit'"}],"mark":{"type":"line","strokeWidth":9,"strokeDash":[29,14],"interpolate":"monotone","strokeCap":"butt"},
"encoding":{"color":{"field":"s","type":"nominal","scale":{"domain":["Voronoi Fit","Annulus Fit","Voronoi Densities","Annulus Densities"],"range":["black","#ff1493","#2626ff","red"]},
"legend":{"title":null,"orient":"top-right","offset":14,"padding":10,"fillColor":"white","strokeColor":"#cccccc","cornerRadius":5,"labelFontSize":28,"labelColor":"black","labelFont":"DejaVu Sans","labelOffset":34,"symbolOffset":15,"symbolSize":3600,"rowPadding":9,"labelLimit":500,
"encode":{"symbols":{"update":{
"shape":{"signal":"datum.value=='Voronoi Densities' ? 'M0,-0.45L0,0.45M0.12,0A0.12,0.12,0,1,1,-0.12,0A0.12,0.12,0,1,1,0.12,0Z' : datum.value=='Annulus Densities' ? 'M-0.05,-0.45L0.05,-0.45L0.05,0.45L-0.05,0.45ZM0.14,0A0.14,0.14,0,1,1,-0.14,0A0.14,0.14,0,1,1,0.14,0Z' : 'M-1,0L1,0'"},
"stroke":{"signal":"datum.value=='Voronoi Fit' ? 'black' : datum.value=='Annulus Fit' ? '#ff1493' : datum.value=='Voronoi Densities' ? '#33ccff' : '#300000'"},
"fill":{"signal":"datum.value=='Voronoi Densities' ? '#2626ff' : datum.value=='Annulus Densities' ? 'red' : 'transparent'"},
"strokeWidth":{"signal":"datum.value=='Voronoi Fit' ? 9 : datum.value=='Annulus Fit' ? 7 : datum.value=='Voronoi Densities' ? 1.5 : 1"},
"strokeDash":{"signal":"datum.value=='Voronoi Fit' ? [31,13] : []"},
"opacity":{"value":1}}}}}}}},
{"data":{"name":"ta"},"mark":{"type":"errorbar","color":"#5a0000","thickness":6},"encoding":{"yError":{"field":"e"}}},
{"data":{"name":"ta"},"mark":{"type":"errorbar","color":"red","thickness":3.5},"encoding":{"yError":{"field":"e"}}},
{"data":{"name":"ta"},"mark":{"type":"point","filled":true,"fill":"red","stroke":"#3a0000","strokeWidth":1.3,"size":85,"opacity":1}}
]},
{"width":1140,"height":651,
"title":{"text":"ESO 509-G067 Radial Distribution"},
"encoding":{
"x":{"field":"r","type":"quantitative","title":"Radius (arcseconds)","scale":{"domain":[0,160],"nice":false},"axis":{"values":[0,20,40,60,80,100,120,140,160]}},
"y":{"field":"y","type":"quantitative","title":"Objects per Unit Area (arcseconds⁻²)","scale":{"domain":[0,1.8],"nice":false,"zero":false,"clamp":true},"axis":{"values":[0,0.2,0.4,0.6,0.8,1.0,1.2,1.4,1.6,1.8],"format":".1f"}}},
"layer":[
{"data":{"name":"bg"},"mark":{"type":"rect","color":"#e3e3e3"},"encoding":{"x2":{"field":"r2","title":"Radius (arcseconds)"},"y2":{"field":"y2","title":"Objects per Unit Area (arcseconds⁻²)"}}},
{"data":{"name":"bv"},"mark":{"type":"errorbar","color":"#00bfff","opacity":0.65,"thickness":1.4},"encoding":{"yError":{"field":"e"}}},
{"data":{"name":"bv"},"mark":{"type":"point","filled":true,"color":"#2424ff","opacity":0.82,"size":46}},
{"data":{"name":"bf"},"transform":[{"filter":"datum.s=='Annulus Fit'"}],"mark":{"type":"line","color":"#ff1493","strokeWidth":7,"interpolate":"monotone","strokeCap":"butt"}},
{"data":{"name":"bf"},"transform":[{"filter":"datum.s=='Voronoi Fit'"}],"mark":{"type":"line","strokeWidth":9,"strokeDash":[29,14],"interpolate":"monotone","strokeCap":"butt"},
"encoding":{"color":{"field":"s","type":"nominal","scale":{"domain":["Voronoi Fit","Annulus Fit","Voronoi Densities","Annulus Densities"],"range":["black","#ff1493","#2626ff","red"]},
"legend":{"title":null,"orient":"top-right","offset":14,"padding":10,"fillColor":"white","strokeColor":"#cccccc","cornerRadius":5,"labelFontSize":28,"labelColor":"black","labelFont":"DejaVu Sans","labelOffset":34,"symbolOffset":15,"symbolSize":3600,"rowPadding":9,"labelLimit":500,
"encode":{"symbols":{"update":{
"shape":{"signal":"datum.value=='Voronoi Densities' ? 'M0,-0.45L0,0.45M0.12,0A0.12,0.12,0,1,1,-0.12,0A0.12,0.12,0,1,1,0.12,0Z' : datum.value=='Annulus Densities' ? 'M-0.05,-0.45L0.05,-0.45L0.05,0.45L-0.05,0.45ZM0.14,0A0.14,0.14,0,1,1,-0.14,0A0.14,0.14,0,1,1,0.14,0Z' : 'M-1,0L1,0'"},
"stroke":{"signal":"datum.value=='Voronoi Fit' ? 'black' : datum.value=='Annulus Fit' ? '#ff1493' : datum.value=='Voronoi Densities' ? '#33ccff' : '#300000'"},
"fill":{"signal":"datum.value=='Voronoi Densities' ? '#2626ff' : datum.value=='Annulus Densities' ? 'red' : 'transparent'"},
"strokeWidth":{"signal":"datum.value=='Voronoi Fit' ? 9 : datum.value=='Annulus Fit' ? 7 : datum.value=='Voronoi Densities' ? 1.5 : 1"},
"strokeDash":{"signal":"datum.value=='Voronoi Fit' ? [31,13] : []"},
"opacity":{"value":1}}}}}}}},
{"data":{"name":"ba"},"mark":{"type":"errorbar","color":"#5a0000","thickness":6},"encoding":{"yError":{"field":"e"}}},
{"data":{"name":"ba"},"mark":{"type":"errorbar","color":"red","thickness":3.5},"encoding":{"yError":{"field":"e"}}},
{"data":{"name":"ba"},"mark":{"type":"point","filled":true,"fill":"red","stroke":"#3a0000","strokeWidth":1.3,"size":85,"opacity":1}}
]}
],
"spacing":117,
"bounds":"flush",
"resolve":{"scale":{"color":"independent"},"legend":{"color":"independent"}}
}
